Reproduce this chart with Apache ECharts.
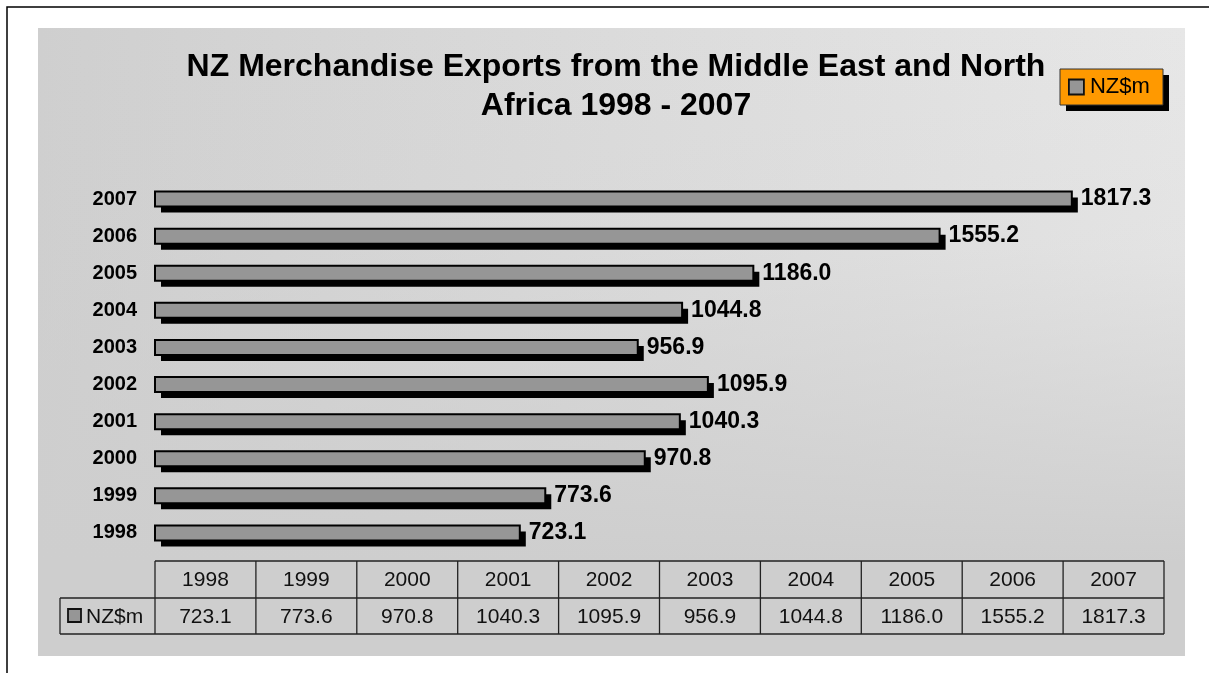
<!DOCTYPE html>
<html>
<head>
<meta charset="utf-8">
<script src="https://cdn.jsdelivr.net/npm/echarts@6/dist/echarts.min.js"></script>
<style>html,body{margin:0;padding:0;background:#fff;}#c{width:1209px;height:673px;}</style>
</head>
<body>
<div id="c"></div>
<script>
const years = ['1998','1999','2000','2001','2002','2003','2004','2005','2006','2007'];
const values = [723.1, 773.6, 970.8, 1040.3, 1095.9, 956.9, 1044.8, 1186.0, 1555.2, 1817.3];
const seriesName = 'NZ$m';
const titleText = 'NZ Merchandise Exports from the Middle East and North\nAfrica 1998 - 2007';

const FONT = '"Liberation Sans", Arial, sans-serif';
const W = 1209, H = 673;
const G = {left: 155, right: 45, top: 180.5, height: 371};
const gridW = W - G.left - G.right;
const BAR_H = 15, SH = 6;

const chart = echarts.init(document.getElementById('c'), null, {renderer: 'canvas'});

// Data table built from arrays
const tbl = [];
const rowTop = 561, rowMid = 598, rowBot = 634, leftCell = 60;
const colW = gridW / years.length;
const lineStyle = {stroke: '#222', lineWidth: 1.3};
tbl.push({type: 'line', shape: {x1: G.left, y1: rowTop, x2: G.left + gridW, y2: rowTop}, style: lineStyle, silent: true});
tbl.push({type: 'line', shape: {x1: leftCell, y1: rowMid, x2: G.left + gridW, y2: rowMid}, style: lineStyle, silent: true});
tbl.push({type: 'line', shape: {x1: leftCell, y1: rowBot, x2: G.left + gridW, y2: rowBot}, style: lineStyle, silent: true});
tbl.push({type: 'line', shape: {x1: leftCell, y1: rowMid, x2: leftCell, y2: rowBot}, style: lineStyle, silent: true});
for (let i = 0; i <= years.length; i++) {
  const x = G.left + i * colW;
  tbl.push({type: 'line', shape: {x1: x, y1: rowTop, x2: x, y2: rowBot}, style: lineStyle, silent: true});
}
years.forEach((y, i) => {
  const cx = G.left + (i + 0.5) * colW;
  tbl.push({type: 'text', x: cx, y: (rowTop + rowMid) / 2 + 1, style: {text: y, fill: '#111', font: '21px ' + FONT, textAlign: 'center', textVerticalAlign: 'middle'}, silent: true});
  tbl.push({type: 'text', x: cx, y: (rowMid + rowBot) / 2 + 1, style: {text: values[i].toFixed(1), fill: '#111', font: '21px ' + FONT, textAlign: 'center', textVerticalAlign: 'middle'}, silent: true});
});
tbl.push({type: 'rect', shape: {x: 68, y: 609, width: 13, height: 13}, style: {fill: '#969696', stroke: '#111', lineWidth: 1.8}, silent: true});
tbl.push({type: 'text', x: 86, y: (rowMid + rowBot) / 2 + 1, style: {text: seriesName, fill: '#111', font: '21px ' + FONT, textAlign: 'left', textVerticalAlign: 'middle'}, silent: true});

function renderBar(params, api) {
  const idx = api.value(0);
  const val = api.value(1);
  const p0 = api.coord([0, idx]);
  const p1 = api.coord([val, idx]);
  const w = p1[0] - p0[0];
  const y = p0[1] - BAR_H / 2;
  return {
    type: 'group',
    children: [
      {type: 'rect', shape: {x: p0[0] + SH, y: y + SH, width: w, height: BAR_H}, style: {fill: '#000'}},
      {type: 'rect', shape: {x: p0[0], y: y, width: w, height: BAR_H}, style: {fill: '#969696', stroke: '#000', lineWidth: 2}},
      {type: 'text', x: p1[0] + SH + 3, y: p0[1], style: {text: val.toFixed(1), fill: '#000', font: 'bold 23px ' + FONT, textAlign: 'left', textVerticalAlign: 'middle'}}
    ]
  };
}

const option = {
  backgroundColor: '#ffffff',
  animation: false,
  graphic: [
    {type: 'rect', z: -10, shape: {x: 7, y: 7, width: 1220, height: 700}, style: {fill: '#fff', stroke: '#000', lineWidth: 1.5}, silent: true},
    {type: 'rect', z: -9, shape: {x: 38, y: 28, width: 1147, height: 628},
      style: {fill: new echarts.graphic.LinearGradient(0, 0, 1, 0, [{offset: 0, color: '#cfcfcf'}, {offset: 1, color: '#e7e7e7'}])}, silent: true},
    {type: 'rect', z: -8, shape: {x: 38, y: 28, width: 1147, height: 628},
      style: {fill: new echarts.graphic.LinearGradient(0, 0, 0, 1, [{offset: 0, color: 'rgba(206,206,206,0)'}, {offset: 0.35, color: 'rgba(206,206,206,0.15)'}, {offset: 0.85, color: 'rgba(206,206,206,1)'}, {offset: 1, color: 'rgba(206,206,206,1)'}])}, silent: true},
    {type: 'rect', z: -7, shape: {x: 1066, y: 75, width: 103, height: 36}, style: {fill: '#000'}, silent: true},
    {type: 'rect', z: -6, shape: {x: 1060, y: 69, width: 103, height: 36}, style: {fill: '#ff9900', stroke: '#333', lineWidth: 1}, silent: true},
    ...tbl
  ],
  title: {
    text: titleText,
    left: 611, textAlign: 'center', top: 43,
    textStyle: {fontFamily: FONT, fontSize: 32, fontWeight: 'bold', color: '#000', lineHeight: 39}
  },
  legend: {
    data: [seriesName],
    left: 1060, top: 69,
    orient: 'horizontal',
    padding: [7, 11, 7, 8],
    itemWidth: 15, itemHeight: 15, itemGap: 6,
    icon: 'rect',
    itemStyle: {color: '#969696', borderColor: '#111', borderWidth: 1.8},
    textStyle: {fontFamily: FONT, fontSize: 22, color: '#000', padding: [0, 0, 0, 1]}
  },
  grid: {left: G.left, right: G.right, top: G.top, height: G.height, containLabel: false},
  xAxis: {type: 'value', min: 0, max: 2000, show: false, splitLine: {show: false}},
  yAxis: {
    type: 'category', data: years,
    axisLine: {show: false}, axisTick: {show: false},
    axisLabel: {margin: 18, fontFamily: FONT, fontSize: 20, fontWeight: 'bold', color: '#000'}
  },
  series: [{
    name: seriesName, type: 'custom',
    renderItem: renderBar,
    encode: {x: 1, y: 0},
    itemStyle: {color: '#969696'},
    data: values.map((v, i) => [i, v])
  }]
};
chart.setOption(option);
</script>
</body>
</html>
